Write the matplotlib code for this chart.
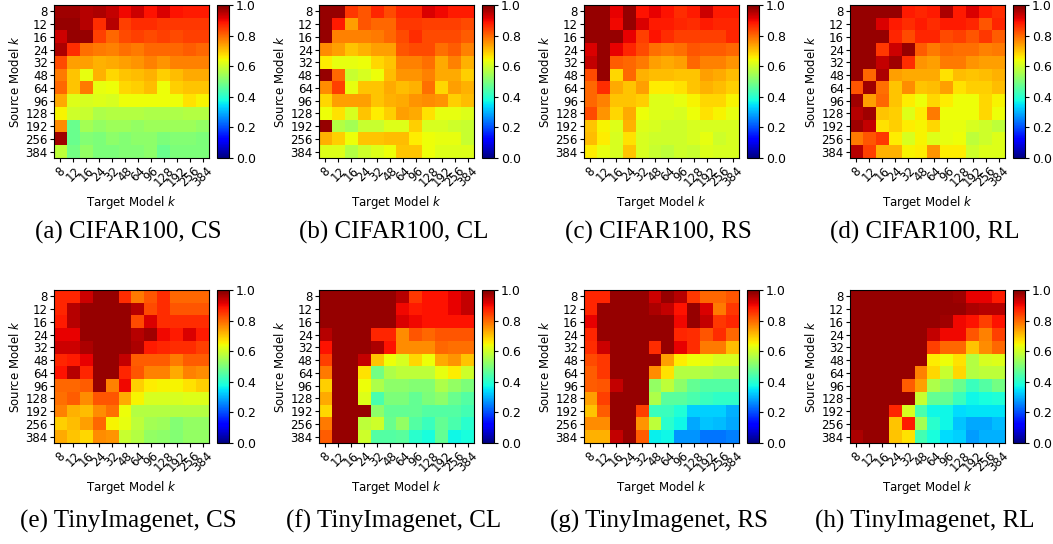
import numpy as np
import matplotlib
matplotlib.use("Agg")
import matplotlib.pyplot as plt

ks = ["8", "12", "16", "24", "32", "48", "64", "96", "128", "192", "256", "384"]

# (a) CIFAR100, CS  -- filas: modelo fuente, columnas: modelo destino
cifar_cs = [
    [0.97, 0.97, 0.95, 0.96, 0.94, 0.90, 0.93, 0.89, 0.92, 0.89, 0.88, 0.88],
    [0.98, 0.98, 0.95, 0.86, 0.95, 0.84, 0.86, 0.86, 0.85, 0.85, 0.85, 0.85],
    [0.93, 0.98, 0.98, 0.84, 0.80, 0.83, 0.84, 0.83, 0.84, 0.83, 0.84, 0.84],
    [0.96, 0.86, 0.79, 0.78, 0.77, 0.79, 0.78, 0.80, 0.80, 0.80, 0.81, 0.80],
    [0.83, 0.74, 0.74, 0.72, 0.73, 0.74, 0.75, 0.77, 0.75, 0.77, 0.77, 0.77],
    [0.78, 0.70, 0.63, 0.72, 0.68, 0.70, 0.71, 0.72, 0.69, 0.71, 0.73, 0.73],
    [0.80, 0.70, 0.78, 0.63, 0.64, 0.68, 0.69, 0.71, 0.64, 0.69, 0.70, 0.70],
    [0.73, 0.62, 0.61, 0.62, 0.61, 0.64, 0.64, 0.64, 0.64, 0.64, 0.67, 0.65],
    [0.65, 0.60, 0.59, 0.56, 0.57, 0.57, 0.57, 0.56, 0.56, 0.56, 0.57, 0.57],
    [0.76, 0.48, 0.55, 0.53, 0.54, 0.54, 0.53, 0.54, 0.54, 0.54, 0.54, 0.53],
    [0.97, 0.48, 0.51, 0.50, 0.52, 0.51, 0.52, 0.52, 0.50, 0.51, 0.51, 0.50],
    [0.58, 0.49, 0.53, 0.50, 0.50, 0.51, 0.51, 0.52, 0.48, 0.50, 0.50, 0.50],
]

# (b) CIFAR100, CL
cifar_cl = [
    [0.98, 0.98, 0.85, 0.82, 0.87, 0.83, 0.87, 0.87, 0.92, 0.90, 0.88, 0.88],
    [0.98, 0.88, 0.74, 0.82, 0.80, 0.80, 0.85, 0.85, 0.84, 0.84, 0.84, 0.83],
    [0.98, 0.77, 0.77, 0.77, 0.78, 0.80, 0.83, 0.86, 0.83, 0.83, 0.83, 0.81],
    [0.76, 0.74, 0.70, 0.72, 0.74, 0.74, 0.82, 0.83, 0.83, 0.79, 0.81, 0.77],
    [0.66, 0.63, 0.63, 0.64, 0.68, 0.70, 0.77, 0.77, 0.79, 0.73, 0.77, 0.72],
    [0.98, 0.80, 0.59, 0.61, 0.64, 0.71, 0.75, 0.75, 0.77, 0.73, 0.73, 0.69],
    [0.76, 0.84, 0.63, 0.70, 0.70, 0.73, 0.71, 0.72, 0.79, 0.68, 0.74, 0.72],
    [0.68, 0.74, 0.74, 0.74, 0.70, 0.72, 0.73, 0.75, 0.76, 0.75, 0.69, 0.71],
    [0.64, 0.67, 0.61, 0.70, 0.66, 0.69, 0.74, 0.73, 0.67, 0.63, 0.63, 0.62],
    [0.98, 0.57, 0.55, 0.59, 0.59, 0.62, 0.62, 0.69, 0.61, 0.61, 0.60, 0.59],
    [0.72, 0.69, 0.64, 0.70, 0.70, 0.71, 0.71, 0.66, 0.64, 0.63, 0.63, 0.59],
    [0.62, 0.62, 0.57, 0.60, 0.62, 0.64, 0.70, 0.70, 0.64, 0.62, 0.62, 0.62],
]

# (c) CIFAR100, RS
cifar_rs = [
    [0.98, 0.98, 0.91, 0.98, 0.89, 0.91, 0.89, 0.86, 0.88, 0.93, 0.88, 0.88],
    [0.98, 0.98, 0.90, 0.98, 0.92, 0.88, 0.88, 0.87, 0.86, 0.88, 0.87, 0.87],
    [0.98, 0.98, 0.98, 0.91, 0.84, 0.89, 0.86, 0.84, 0.84, 0.84, 0.84, 0.87],
    [0.92, 0.98, 0.91, 0.87, 0.83, 0.79, 0.78, 0.79, 0.82, 0.81, 0.81, 0.80],
    [0.94, 0.98, 0.81, 0.80, 0.78, 0.74, 0.73, 0.74, 0.80, 0.77, 0.77, 0.75],
    [0.83, 0.98, 0.68, 0.80, 0.72, 0.71, 0.71, 0.70, 0.70, 0.74, 0.73, 0.71],
    [0.80, 0.86, 0.73, 0.70, 0.74, 0.66, 0.66, 0.67, 0.70, 0.72, 0.71, 0.69],
    [0.80, 0.77, 0.70, 0.70, 0.69, 0.62, 0.62, 0.63, 0.65, 0.68, 0.68, 0.65],
    [0.83, 0.75, 0.68, 0.73, 0.64, 0.62, 0.62, 0.61, 0.64, 0.67, 0.65, 0.63],
    [0.70, 0.65, 0.62, 0.72, 0.62, 0.61, 0.60, 0.60, 0.61, 0.61, 0.61, 0.61],
    [0.71, 0.66, 0.61, 0.67, 0.61, 0.60, 0.60, 0.60, 0.61, 0.63, 0.60, 0.61],
    [0.66, 0.63, 0.61, 0.70, 0.61, 0.59, 0.58, 0.60, 0.59, 0.62, 0.61, 0.61],
]

# (d) CIFAR100, RL
cifar_rl = [
    [0.98, 0.98, 0.98, 0.98, 0.88, 0.87, 0.88, 0.96, 0.88, 0.92, 0.88, 0.86],
    [0.98, 0.98, 0.92, 0.88, 0.86, 0.88, 0.86, 0.88, 0.88, 0.87, 0.82, 0.87],
    [0.98, 0.98, 0.98, 0.87, 0.83, 0.87, 0.87, 0.83, 0.84, 0.82, 0.85, 0.81],
    [0.98, 0.98, 0.85, 0.93, 0.98, 0.81, 0.78, 0.80, 0.79, 0.79, 0.77, 0.78],
    [0.98, 0.98, 0.94, 0.97, 0.86, 0.75, 0.74, 0.78, 0.78, 0.75, 0.74, 0.74],
    [0.98, 0.80, 0.96, 0.74, 0.73, 0.73, 0.73, 0.67, 0.71, 0.70, 0.71, 0.72],
    [0.82, 0.97, 0.79, 0.70, 0.76, 0.70, 0.71, 0.74, 0.67, 0.69, 0.69, 0.71],
    [0.97, 0.74, 0.80, 0.70, 0.66, 0.64, 0.68, 0.66, 0.64, 0.64, 0.68, 0.65],
    [0.95, 0.97, 0.70, 0.69, 0.62, 0.66, 0.78, 0.64, 0.64, 0.64, 0.68, 0.64],
    [0.97, 0.94, 0.67, 0.69, 0.66, 0.65, 0.68, 0.63, 0.63, 0.61, 0.60, 0.58],
    [0.78, 0.82, 0.85, 0.66, 0.61, 0.65, 0.62, 0.63, 0.64, 0.58, 0.60, 0.62],
    [0.95, 0.84, 0.72, 0.72, 0.65, 0.66, 0.75, 0.66, 0.66, 0.60, 0.62, 0.62],
]

# (e) TinyImagenet, CS
tiny_cs = [
    [0.87, 0.87, 0.93, 0.98, 0.98, 0.86, 0.78, 0.82, 0.86, 0.80, 0.80, 0.80],
    [0.87, 0.95, 0.98, 0.98, 0.98, 0.98, 0.95, 0.83, 0.86, 0.82, 0.82, 0.82],
    [0.88, 0.95, 0.98, 0.98, 0.98, 0.98, 0.83, 0.92, 0.86, 0.86, 0.86, 0.86],
    [0.91, 0.91, 0.98, 0.98, 0.98, 0.98, 0.95, 0.97, 0.90, 0.88, 0.92, 0.88],
    [0.93, 0.93, 0.96, 0.98, 0.98, 0.98, 0.96, 0.88, 0.87, 0.86, 0.86, 0.84],
    [0.87, 0.88, 0.91, 0.98, 0.98, 0.94, 0.81, 0.81, 0.81, 0.78, 0.81, 0.81],
    [0.89, 0.95, 0.87, 0.98, 0.98, 0.87, 0.82, 0.77, 0.77, 0.73, 0.77, 0.76],
    [0.80, 0.80, 0.81, 0.98, 0.77, 0.90, 0.69, 0.66, 0.65, 0.65, 0.67, 0.69],
    [0.79, 0.81, 0.76, 0.82, 0.82, 0.73, 0.65, 0.61, 0.61, 0.61, 0.62, 0.62],
    [0.77, 0.72, 0.71, 0.76, 0.79, 0.64, 0.57, 0.57, 0.57, 0.57, 0.57, 0.57],
    [0.69, 0.71, 0.74, 0.80, 0.65, 0.63, 0.58, 0.55, 0.54, 0.51, 0.53, 0.53],
    [0.73, 0.70, 0.68, 0.76, 0.75, 0.59, 0.57, 0.53, 0.52, 0.51, 0.53, 0.53],
]

# (f) TinyImagenet, CL
tiny_cl = [
    [0.98, 0.98, 0.98, 0.98, 0.98, 0.98, 0.95, 0.85, 0.89, 0.89, 0.91, 0.94],
    [0.98, 0.98, 0.98, 0.98, 0.98, 0.98, 0.90, 0.88, 0.89, 0.89, 0.91, 0.94],
    [0.98, 0.98, 0.98, 0.98, 0.98, 0.98, 0.92, 0.90, 0.89, 0.89, 0.89, 0.89],
    [0.95, 0.98, 0.98, 0.98, 0.87, 0.87, 0.76, 0.82, 0.80, 0.82, 0.82, 0.82],
    [0.89, 0.98, 0.98, 0.98, 0.96, 0.89, 0.76, 0.76, 0.76, 0.80, 0.79, 0.79],
    [0.84, 0.98, 0.98, 0.94, 0.70, 0.64, 0.61, 0.68, 0.64, 0.73, 0.75, 0.70],
    [0.78, 0.98, 0.98, 0.67, 0.49, 0.56, 0.58, 0.58, 0.58, 0.63, 0.66, 0.60],
    [0.69, 0.98, 0.98, 0.64, 0.56, 0.52, 0.52, 0.51, 0.51, 0.56, 0.53, 0.50],
    [0.73, 0.98, 0.98, 0.62, 0.44, 0.50, 0.50, 0.47, 0.50, 0.52, 0.48, 0.45],
    [0.68, 0.98, 0.98, 0.98, 0.52, 0.47, 0.47, 0.47, 0.45, 0.45, 0.45, 0.43],
    [0.78, 0.98, 0.98, 0.58, 0.60, 0.48, 0.53, 0.45, 0.42, 0.47, 0.44, 0.40],
    [0.81, 0.98, 0.98, 0.60, 0.45, 0.45, 0.46, 0.40, 0.38, 0.47, 0.37, 0.38],
]

# (g) TinyImagenet, RS
tiny_rs = [
    [0.87, 0.87, 0.98, 0.98, 0.98, 0.93, 0.98, 0.95, 0.85, 0.80, 0.80, 0.82],
    [0.87, 0.98, 0.98, 0.98, 0.98, 0.96, 0.94, 0.89, 0.98, 0.92, 0.78, 0.85],
    [0.91, 0.98, 0.98, 0.98, 0.98, 0.98, 0.98, 0.90, 0.98, 0.94, 0.85, 0.87],
    [0.87, 0.98, 0.98, 0.98, 0.98, 0.98, 0.98, 0.87, 0.86, 0.82, 0.86, 0.80],
    [0.86, 0.93, 0.98, 0.98, 0.98, 0.86, 0.98, 0.91, 0.86, 0.78, 0.78, 0.71],
    [0.83, 0.85, 0.98, 0.98, 0.98, 0.98, 0.74, 0.66, 0.64, 0.63, 0.61, 0.61],
    [0.81, 0.85, 0.98, 0.98, 0.98, 0.76, 0.67, 0.57, 0.57, 0.56, 0.55, 0.55],
    [0.81, 0.82, 0.94, 0.98, 0.98, 0.53, 0.58, 0.52, 0.47, 0.45, 0.45, 0.45],
    [0.74, 0.84, 0.98, 0.98, 0.98, 0.56, 0.46, 0.46, 0.44, 0.42, 0.41, 0.41],
    [0.70, 0.81, 0.98, 0.98, 0.84, 0.42, 0.42, 0.39, 0.33, 0.33, 0.33, 0.30],
    [0.76, 0.76, 0.98, 0.98, 0.75, 0.58, 0.40, 0.37, 0.29, 0.32, 0.31, 0.29],
    [0.72, 0.72, 0.94, 0.98, 0.81, 0.36, 0.37, 0.27, 0.27, 0.24, 0.24, 0.25],
]

# (h) TinyImagenet, RL
tiny_rl = [
    [0.98, 0.98, 0.98, 0.98, 0.98, 0.98, 0.98, 0.98, 0.97, 0.91, 0.91, 0.88],
    [0.98, 0.98, 0.98, 0.98, 0.98, 0.98, 0.98, 0.98, 0.98, 0.96, 0.95, 0.95],
    [0.98, 0.98, 0.98, 0.98, 0.98, 0.98, 0.98, 0.97, 0.90, 0.89, 0.84, 0.89],
    [0.98, 0.98, 0.98, 0.98, 0.98, 0.98, 0.94, 0.90, 0.90, 0.82, 0.77, 0.84],
    [0.98, 0.98, 0.98, 0.98, 0.98, 0.98, 0.84, 0.80, 0.80, 0.70, 0.76, 0.80],
    [0.98, 0.98, 0.98, 0.98, 0.98, 0.98, 0.66, 0.64, 0.67, 0.57, 0.61, 0.62],
    [0.98, 0.98, 0.98, 0.98, 0.98, 0.77, 0.68, 0.59, 0.68, 0.57, 0.58, 0.58],
    [0.98, 0.98, 0.98, 0.98, 0.81, 0.74, 0.56, 0.52, 0.48, 0.42, 0.45, 0.49],
    [0.98, 0.98, 0.98, 0.98, 0.98, 0.59, 0.47, 0.47, 0.42, 0.37, 0.38, 0.39],
    [0.98, 0.98, 0.98, 0.87, 0.61, 0.44, 0.37, 0.37, 0.34, 0.35, 0.35, 0.35],
    [0.98, 0.98, 0.98, 0.70, 0.88, 0.55, 0.40, 0.37, 0.32, 0.29, 0.29, 0.31],
    [0.96, 0.98, 0.98, 0.70, 0.67, 0.43, 0.38, 0.34, 0.33, 0.28, 0.30, 0.30],
]

panels = [
    (cifar_cs, "(a) CIFAR100, CS"), (cifar_cl, "(b) CIFAR100, CL"),
    (cifar_rs, "(c) CIFAR100, RS"), (cifar_rl, "(d) CIFAR100, RL"),
    (tiny_cs, "(e) TinyImagenet, CS"), (tiny_cl, "(f) TinyImagenet, CL"),
    (tiny_rs, "(g) TinyImagenet, RS"), (tiny_rl, "(h) TinyImagenet, RL"),
]

W, H = 1053, 544
fig = plt.figure(figsize=(W / 100, H / 100), dpi=100)

# posiciones en pixeles (izquierda del mapa, arriba del mapa)
col_x = [54, 319, 584, 850]
row_y = [5, 290]
cap_y = [232, 521]
hm_w, hm_h = 155, 153
cb_gap, cb_w = 163, 12

def px_rect(x, y, w, h):
    return [x / W, 1 - (y + h) / H, w / W, h / H]

for i, (data, caption) in enumerate(panels):
    r, c = divmod(i, 4)
    x0, y0 = col_x[c], row_y[r]
    ax = fig.add_axes(px_rect(x0, y0, hm_w, hm_h))
    im = ax.imshow(np.array(data), cmap="jet", vmin=0, vmax=1, aspect="auto")
    ax.set_xticks(range(len(ks)))
    ax.set_yticks(range(len(ks)))
    ax.set_xticklabels(ks, rotation=45, fontsize=8.5)
    ax.set_yticklabels(ks, fontsize=8.5)
    ax.tick_params(length=3, pad=1.5)
    ax.set_xlabel("Target Model $k$", fontsize=8.5, labelpad=3)
    ax.set_ylabel("Source Model $k$", fontsize=8.5, labelpad=2)

    cax = fig.add_axes(px_rect(x0 + cb_gap, y0, cb_w, hm_h))
    cb = fig.colorbar(im, cax=cax, ticks=[0.0, 0.2, 0.4, 0.6, 0.8, 1.0])
    cb.ax.tick_params(labelsize=9, length=3, pad=2)

    fig.text((x0 + hm_w / 2 - 3) / W, 1 - cap_y[r] / H, caption,
             family="Liberation Serif", fontsize=18, ha="center", va="center")

fig.savefig("out.png", dpi=100)
